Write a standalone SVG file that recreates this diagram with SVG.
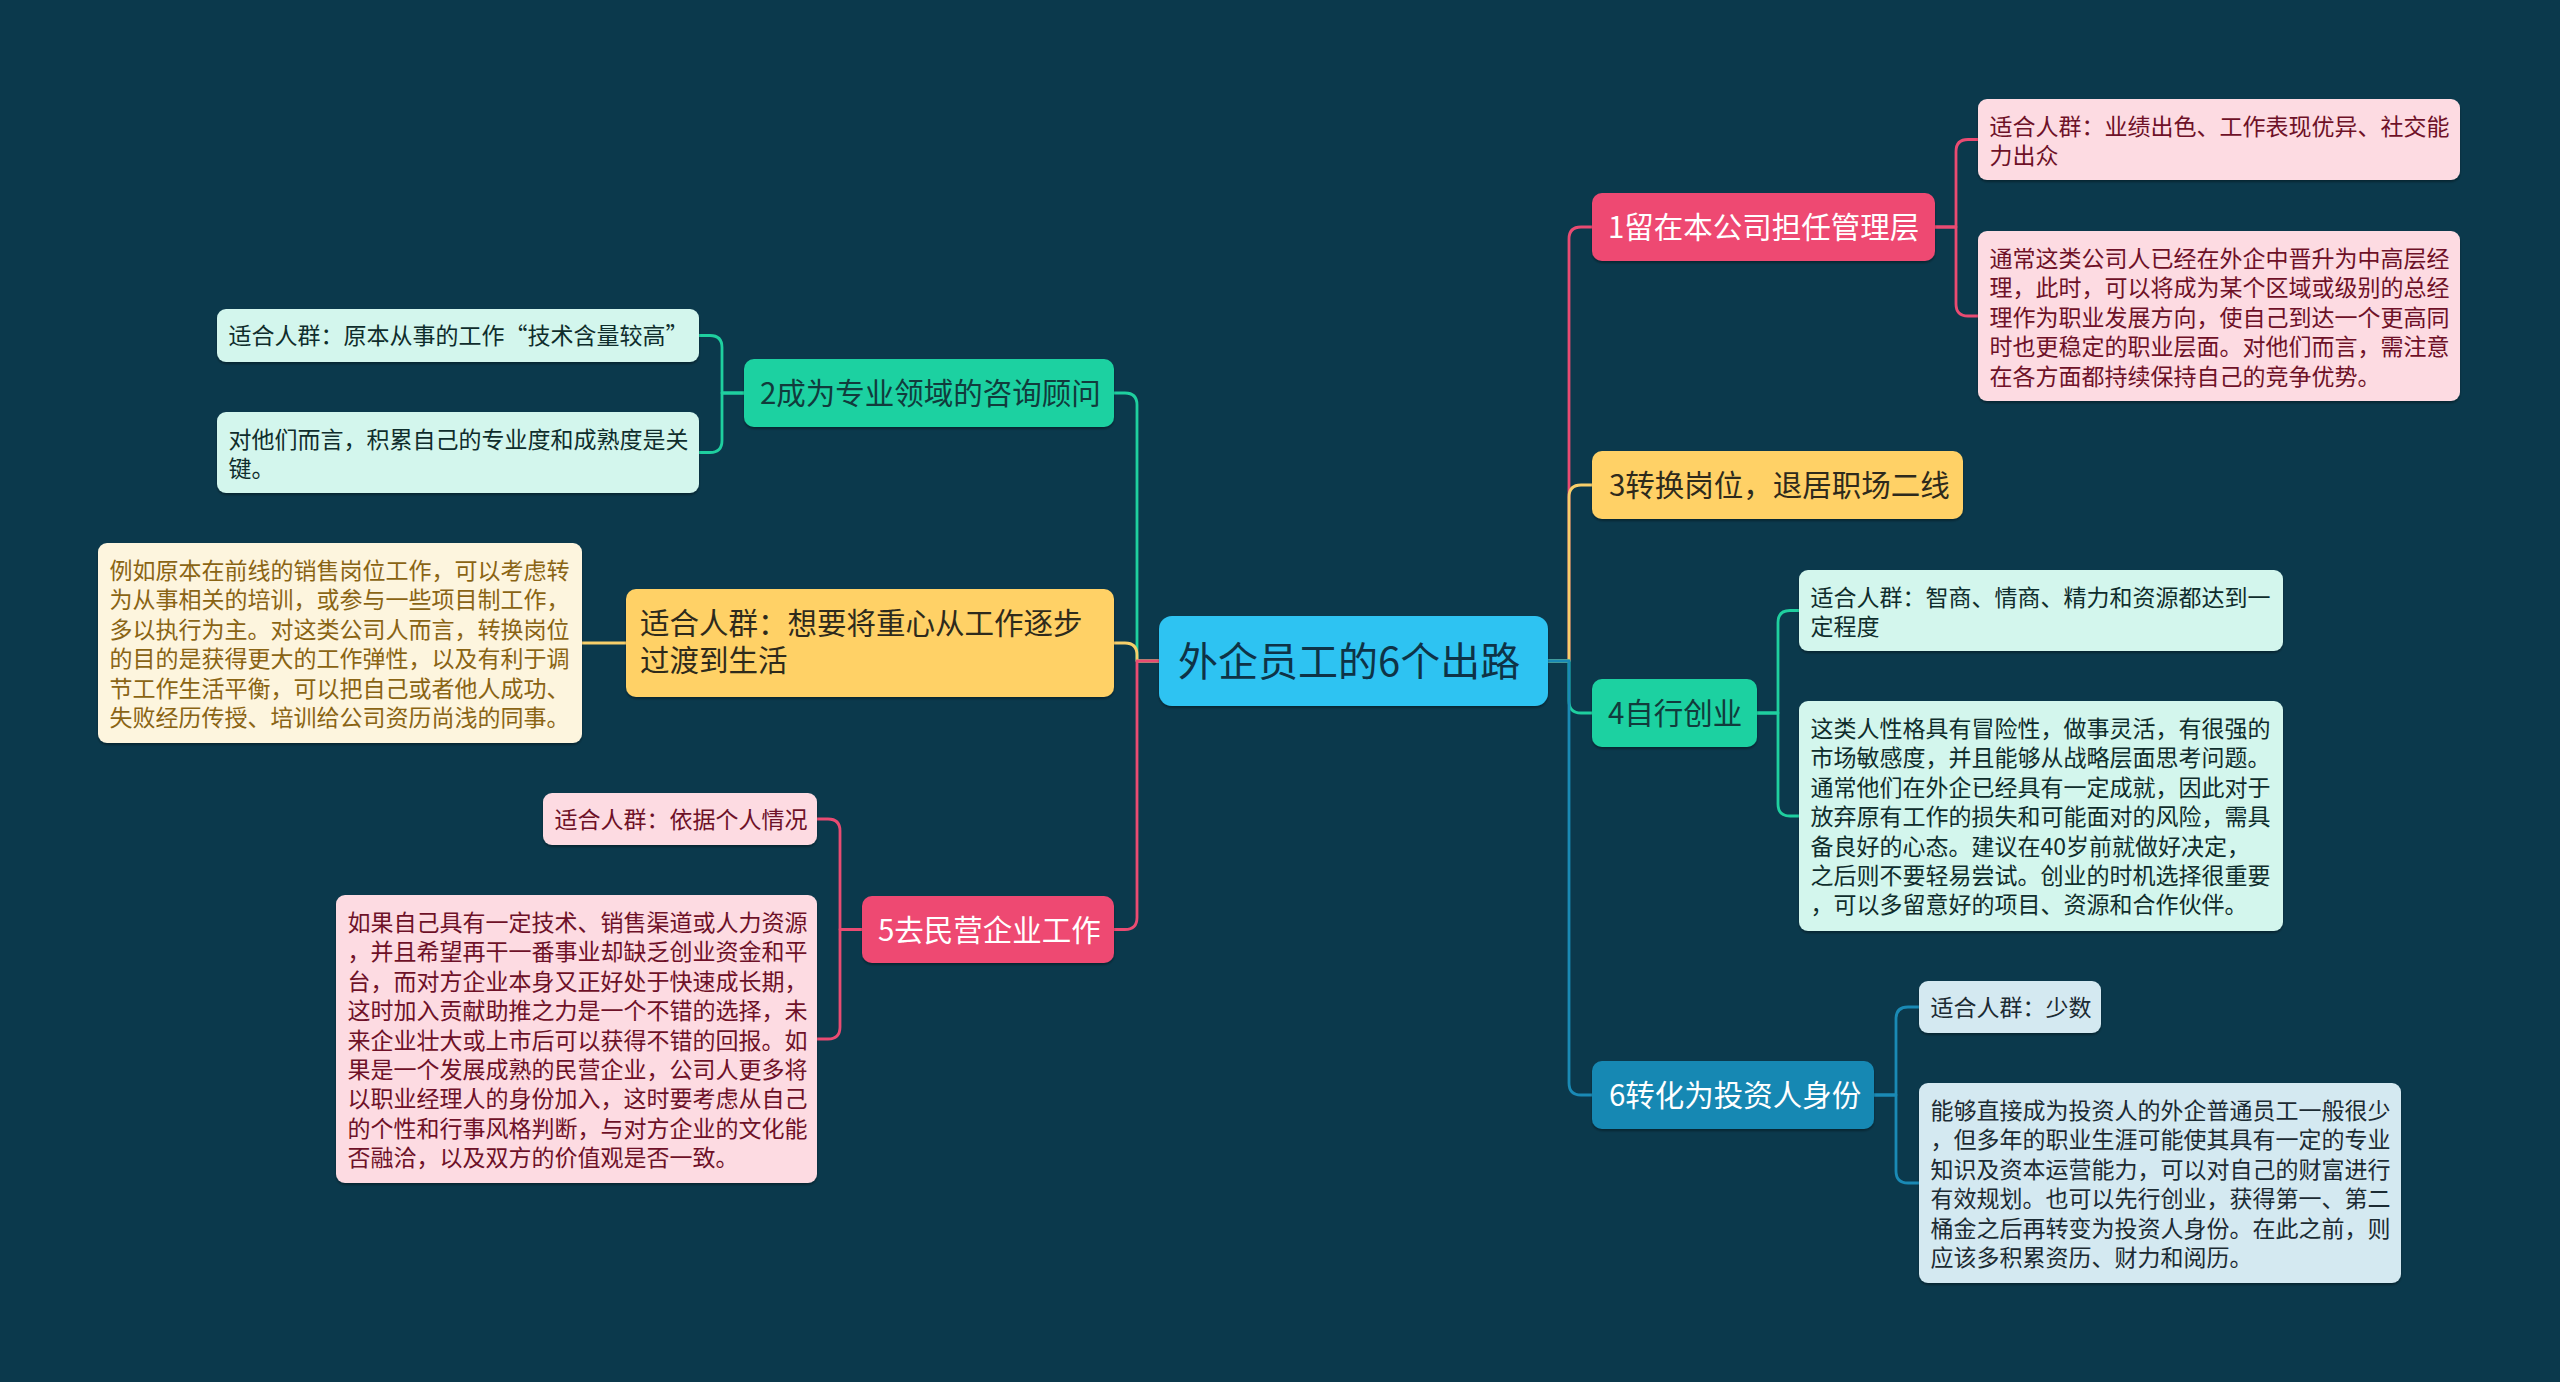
<svg xmlns="http://www.w3.org/2000/svg" width="2560" height="1382" viewBox="0 0 2560 1382">
<defs>
<filter id="sh" x="-5%" y="-10%" width="110%" height="130%">
<feDropShadow dx="0" dy="2" stdDeviation="1.2" flood-color="#000" flood-opacity="0.35"/>
</filter>
<style>
text{font-family:"Noto Sans CJK SC","Noto Sans",sans-serif;}
.box{filter:url(#sh);}
.m{font-size:29.5px;}
.c{font-size:23px;}
.root{font-size:40px;fill:#0e3347;}
.pinkM{fill:#ee4a72;}
.greenM{fill:#1fd1a1;}
.yellowM{fill:#ffd166;}
.blueM{fill:#1788b3;}
.pinkC{fill:#fddbe2;}
.greenC{fill:#d3f6ed;}
.yellowC{fill:#fdf5de;}
.blueC{fill:#d4e9f1;}
.tw{fill:#ffffff;}
.tg{fill:#113b3c;}
.ty{fill:#2e2a1c;}
.tpc{fill:#6e1128;}
.tgc{fill:#0f2d2c;}
.tyc{fill:#8a6414;}
.tbc{fill:#1c2b33;}
.ln{fill:none;stroke-width:2.8;stroke-linecap:round;stroke-linejoin:round;}
.lp{stroke:#e94b72;}
.lg{stroke:#1fcf9f;}
.ly{stroke:#f7cf6a;}
.lb{stroke:#1a8ab5;}
</style>
</defs>
<rect x="0" y="0" width="2560" height="1382" fill="#0b394c"/>

<g id="connectors">
<path class="ln lg" d="M1159 661 H1137 V405 Q1137 393 1125 393 H1114"/>
<path class="ln ly" d="M1159 661 H1137 V655 Q1137 643 1125 643 H1114"/>
<path class="ln lp" d="M1159 661 H1137 V917.5 Q1137 929.5 1125 929.5 H1114"/>
<path class="ln lp" d="M1548 661 H1569 V239 Q1569 227 1581 227 H1592"/>
<path class="ln ly" d="M1548 661 H1569 V497 Q1569 485 1581 485 H1592"/>
<path class="ln lg" d="M1548 661 H1569 V701 Q1569 713 1581 713 H1592"/>
<path class="ln lb" d="M1548 661 H1569 V1083 Q1569 1095 1581 1095 H1592"/>
<path class="ln lp" d="M1935 227 H1956 V151.5 Q1956 139.5 1968 139.5 H1978"/>
<path class="ln lp" d="M1935 227 H1956 V304 Q1956 316 1968 316 H1978"/>
<path class="ln lg" d="M1757 713 H1778 V622.5 Q1778 610.5 1790 610.5 H1799"/>
<path class="ln lg" d="M1757 713 H1778 V804 Q1778 816 1790 816 H1799"/>
<path class="ln lb" d="M1874 1095 H1896 V1019 Q1896 1007 1908 1007 H1919"/>
<path class="ln lb" d="M1874 1095 H1896 V1171 Q1896 1183 1908 1183 H1919"/>
<path class="ln lg" d="M744 393 H722 V347.5 Q722 335.5 710 335.5 H699"/>
<path class="ln lg" d="M744 393 H722 V440.5 Q722 452.5 710 452.5 H699"/>
<path class="ln ly" d="M626 643 H582"/>
<path class="ln lp" d="M862 929.5 H840 V831 Q840 819 828 819 H817"/>
<path class="ln lp" d="M862 929.5 H840 V1027 Q840 1039 828 1039 H817"/>
</g>

<g id="root">
<rect class="box" x="1159" y="616" width="389" height="90" rx="13" fill="#2fc3f2"/>
<text class="root" x="1178" y="676">外企员工的6个出路</text>
</g>

<g id="n1">
<rect class="box pinkM" x="1592" y="193" width="343" height="68" rx="10"/>
<text class="m tw" x="1608" y="238">1留在本公司担任管理层</text>
</g>
<g id="n1a">
<rect class="box pinkC" x="1978" y="99" width="482" height="81" rx="9"/>
<text class="c tpc" x="1989.5" y="135">适合人群：业绩出色、工作表现优异、社交能</text>
<text class="c tpc" x="1989.5" y="164.4">力出众</text>
</g>
<g id="n1b">
<rect class="box pinkC" x="1978" y="231" width="482" height="170" rx="9"/>
<text class="c tpc" x="1989.5" y="267">通常这类公司人已经在外企中晋升为中高层经</text>
<text class="c tpc" x="1989.5" y="296.4">理，此时，可以将成为某个区域或级别的总经</text>
<text class="c tpc" x="1989.5" y="325.8">理作为职业发展方向，使自己到达一个更高同</text>
<text class="c tpc" x="1989.5" y="355.2">时也更稳定的职业层面。对他们而言，需注意</text>
<text class="c tpc" x="1989.5" y="384.6">在各方面都持续保持自己的竞争优势。</text>
</g>

<g id="n3">
<rect class="box yellowM" x="1592" y="451" width="371" height="68" rx="10"/>
<text class="m ty" x="1609" y="496">3转换岗位，退居职场二线</text>
</g>

<g id="n4">
<rect class="box greenM" x="1592" y="679" width="165" height="68" rx="10"/>
<text class="m tg" x="1608" y="724">4自行创业</text>
</g>
<g id="n4a">
<rect class="box greenC" x="1799" y="570" width="484" height="81" rx="9"/>
<text class="c tgc" x="1810.5" y="606">适合人群：智商、情商、精力和资源都达到一</text>
<text class="c tgc" x="1810.5" y="635.4">定程度</text>
</g>
<g id="n4b">
<rect class="box greenC" x="1799" y="701" width="484" height="230" rx="9"/>
<text class="c tgc" x="1810.5" y="737">这类人性格具有冒险性，做事灵活，有很强的</text>
<text class="c tgc" x="1810.5" y="766.4">市场敏感度，并且能够从战略层面思考问题。</text>
<text class="c tgc" x="1810.5" y="795.8">通常他们在外企已经具有一定成就，因此对于</text>
<text class="c tgc" x="1810.5" y="825.2">放弃原有工作的损失和可能面对的风险，需具</text>
<text class="c tgc" x="1810.5" y="854.6">备良好的心态。建议在40岁前就做好决定，</text>
<text class="c tgc" x="1810.5" y="884">之后则不要轻易尝试。创业的时机选择很重要</text>
<text class="c tgc" x="1810.5" y="913.4">，可以多留意好的项目、资源和合作伙伴。</text>
</g>

<g id="n6">
<rect class="box blueM" x="1592" y="1061" width="282" height="68" rx="10"/>
<text class="m tw" x="1609" y="1106">6转化为投资人身份</text>
</g>
<g id="n6a">
<rect class="box blueC" x="1919" y="981" width="182" height="52" rx="9"/>
<text class="c tbc" x="1930.5" y="1015.5">适合人群：少数</text>
</g>
<g id="n6b">
<rect class="box blueC" x="1919" y="1083" width="482" height="200" rx="9"/>
<text class="c tbc" x="1930.5" y="1119">能够直接成为投资人的外企普通员工一般很少</text>
<text class="c tbc" x="1930.5" y="1148.4">，但多年的职业生涯可能使其具有一定的专业</text>
<text class="c tbc" x="1930.5" y="1177.8">知识及资本运营能力，可以对自己的财富进行</text>
<text class="c tbc" x="1930.5" y="1207.2">有效规划。也可以先行创业，获得第一、第二</text>
<text class="c tbc" x="1930.5" y="1236.6">桶金之后再转变为投资人身份。在此之前，则</text>
<text class="c tbc" x="1930.5" y="1266">应该多积累资历、财力和阅历。</text>
</g>

<g id="n2">
<rect class="box greenM" x="744" y="359" width="370" height="68" rx="10"/>
<text class="m tg" x="760" y="404">2成为专业领域的咨询顾问</text>
</g>
<g id="n2a">
<rect class="box greenC" x="217" y="309" width="482" height="53" rx="9"/>
<text class="c tgc" x="228.5" y="344">适合人群：原本从事的工作“技术含量较高”</text>
</g>
<g id="n2b">
<rect class="box greenC" x="217" y="412" width="482" height="81" rx="9"/>
<text class="c tgc" x="228.5" y="448">对他们而言，积累自己的专业度和成熟度是关</text>
<text class="c tgc" x="228.5" y="477.4">键。</text>
</g>

<g id="ny">
<rect class="box yellowM" x="626" y="589" width="488" height="108" rx="10"/>
<text class="m ty" x="640" y="634">适合人群：想要将重心从工作逐步</text>
<text class="m ty" x="640" y="671">过渡到生活</text>
</g>
<g id="ny1">
<rect class="box yellowC" x="98" y="543" width="484" height="200" rx="9"/>
<text class="c tyc" x="109.5" y="579">例如原本在前线的销售岗位工作，可以考虑转</text>
<text class="c tyc" x="109.5" y="608.4">为从事相关的培训，或参与一些项目制工作，</text>
<text class="c tyc" x="109.5" y="637.8">多以执行为主。对这类公司人而言，转换岗位</text>
<text class="c tyc" x="109.5" y="667.2">的目的是获得更大的工作弹性，以及有利于调</text>
<text class="c tyc" x="109.5" y="696.6">节工作生活平衡，可以把自己或者他人成功、</text>
<text class="c tyc" x="109.5" y="726">失败经历传授、培训给公司资历尚浅的同事。</text>
</g>

<g id="n5">
<rect class="box pinkM" x="862" y="896" width="252" height="67" rx="10"/>
<text class="m tw" x="878" y="940.5">5去民营企业工作</text>
</g>
<g id="n5a">
<rect class="box pinkC" x="543" y="793" width="274" height="52" rx="9"/>
<text class="c tpc" x="554.5" y="827.5">适合人群：依据个人情况</text>
</g>
<g id="n5b">
<rect class="box pinkC" x="336" y="895" width="481" height="288" rx="9"/>
<text class="c tpc" x="347.5" y="931">如果自己具有一定技术、销售渠道或人力资源</text>
<text class="c tpc" x="347.5" y="960.4">，并且希望再干一番事业却缺乏创业资金和平</text>
<text class="c tpc" x="347.5" y="989.8">台，而对方企业本身又正好处于快速成长期，</text>
<text class="c tpc" x="347.5" y="1019.2">这时加入贡献助推之力是一个不错的选择，未</text>
<text class="c tpc" x="347.5" y="1048.6">来企业壮大或上市后可以获得不错的回报。如</text>
<text class="c tpc" x="347.5" y="1078">果是一个发展成熟的民营企业，公司人更多将</text>
<text class="c tpc" x="347.5" y="1107.4">以职业经理人的身份加入，这时要考虑从自己</text>
<text class="c tpc" x="347.5" y="1136.8">的个性和行事风格判断，与对方企业的文化能</text>
<text class="c tpc" x="347.5" y="1166.2">否融洽，以及双方的价值观是否一致。</text>
</g>
</svg>
